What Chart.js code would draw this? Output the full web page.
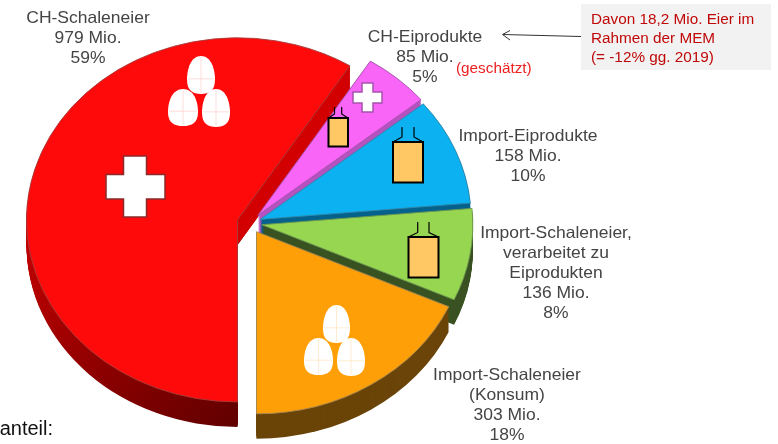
<!DOCTYPE html>
<html><head><meta charset="utf-8">
<style>html,body{margin:0;padding:0;background:#fff}canvas{display:block}</style>
<script src="https://cdn.jsdelivr.net/npm/chart.js@4"></script>
</head><body>
<canvas id="c" width="778" height="444"></canvas>
<script>
const categories = ["CH-Schaleneier","CH-Eiprodukte","Import-Eiprodukte","Import-Schaleneier, verarbeitet zu Eiprodukten","Import-Schaleneier (Konsum)"];
const valuesMio = [979,85,158,136,303];
const sharesPct = [59,5,10,8,18];
const topColors = ["#fe0a0a","#f965f7","#0bb1f1","#97d651","#fe9f08"];
const edgeColors = ["#a83a3a","#a452a8","#2f88a8","#6f9a50","#a88a50"];
const wallColors = ["#7a0000","#b552c0","#05628c","#3a5222","#6a4408"];
const labelLines = [
  ["CH-Schaleneier"],["CH-Eiprodukte"],["Import-Eiprodukte"],
  ["Import-Schaleneier,","verarbeitet zu","Eiprodukten"],["Import-Schaleneier","(Konsum)"]
];
const labelPos = [[88,18],[425,37],[528,136],[556,233],[507,375]];
const noteLines = ["Davon 18,2 Mio. Eier im","Rahmen der MEM","(= -12% gg. 2019)"];
const explode = [13,12,11,12,12];
const TILT = 0.863, DEPTH = 25, CY = 223;

const FONT = '"Liberation Sans", Arial, sans-serif';
function mapY(chart,y){const a=chart.chartArea;return CY+(y-(a.top+a.bottom)/2)*TILT;}

function egg(ctx,x0,y0,x1,y1,lineCol){
  const cx=(x0+x1)/2,w=(x1-x0)/2,h=y1-y0,wy=y0+h*0.62;
  ctx.beginPath();
  ctx.moveTo(cx,y0);
  ctx.bezierCurveTo(cx+w*0.72,y0,cx+w,y0+h*0.34,cx+w,wy);
  ctx.bezierCurveTo(cx+w,y1-h*0.09,cx+w*0.6,y1,cx,y1);
  ctx.bezierCurveTo(cx-w*0.6,y1,cx-w,y1-h*0.09,cx-w,wy);
  ctx.bezierCurveTo(cx-w,y0+h*0.34,cx-w*0.72,y0,cx,y0);
  ctx.closePath();ctx.fillStyle="#fff";ctx.fill();
  ctx.strokeStyle=lineCol;ctx.lineWidth=0.8;
  ctx.beginPath();ctx.moveTo(cx,y0+1);ctx.lineTo(cx,y1-1);
  ctx.moveTo(x0+1,y0+h*0.6);ctx.lineTo(x1-1,y0+h*0.6);ctx.stroke();
}
function cross(ctx,x0,y0,x1,y1,ax0,ax1,ay0,ay1,col,lw){
  ctx.beginPath();
  ctx.moveTo(ax0,y0);ctx.lineTo(ax1,y0);ctx.lineTo(ax1,ay0);ctx.lineTo(x1,ay0);
  ctx.lineTo(x1,ay1);ctx.lineTo(ax1,ay1);ctx.lineTo(ax1,y1);ctx.lineTo(ax0,y1);
  ctx.lineTo(ax0,ay1);ctx.lineTo(x0,ay1);ctx.lineTo(x0,ay0);ctx.lineTo(ax0,ay0);ctx.closePath();
  ctx.fillStyle="#fff";ctx.fill();ctx.strokeStyle=col;ctx.lineWidth=lw;ctx.stroke();
}
function bottle(ctx,x0,x1,yTop,yNeck,yBody,yBottom,n0,n1){
  ctx.fillStyle="#ffc864";ctx.fillRect(x0,yBody,x1-x0,yBottom-yBody);
  ctx.strokeStyle="#000";ctx.lineWidth=2;ctx.strokeRect(x0,yBody,x1-x0,yBottom-yBody);
  ctx.lineWidth=1.2;ctx.beginPath();
  ctx.moveTo(n0,yTop);ctx.lineTo(n0,yNeck);ctx.lineTo(x0,yBody);
  ctx.moveTo(n1,yTop);ctx.lineTo(n1,yNeck);ctx.lineTo(x1,yBody);ctx.stroke();
}
// the reference's text is slightly stretched sideways
function wideText(ctx,t,x,y,sx){
  ctx.save();ctx.translate(x,y);ctx.scale(sx,1);ctx.fillText(t,0,0);ctx.restore();
}

const pie3d = {
  id:"pie3d",
  afterDatasetsUpdate(chart){
    chart.getDatasetMeta(0).data.forEach((el,i)=>{
      const mid=(el.startAngle+el.endAngle)/2;
      el.x+=Math.cos(mid)*explode[i];
      el.y+=Math.sin(mid)*explode[i];
    });
  },
  beforeDatasetsDraw(chart){
    const ctx=chart.ctx,els=chart.getDatasetMeta(0).data;
    els.forEach((el,i)=>{
      const ex=el.x,ey=mapY(chart,el.y),rx=el.outerRadius,ry=rx*TILT;
      let fill=wallColors[i];
      if(i===0){const g=ctx.createLinearGradient(26,230,237,427);
        g.addColorStop(0,"#c40000");g.addColorStop(0.55,"#8a0000");g.addColorStop(1,"#600000");fill=g;}
      ctx.fillStyle=fill;
      for(let d=DEPTH;d>=1;d--){
        ctx.beginPath();ctx.moveTo(ex,ey+d);
        ctx.ellipse(ex,ey+d,rx,ry,0,el.startAngle,el.endAngle);
        ctx.closePath();ctx.fill();
      }
      if(i===0){
        const px=ex+Math.cos(el.endAngle)*rx,py=ey+Math.sin(el.endAngle)*ry;
        ctx.fillStyle="#d20000";ctx.beginPath();
        ctx.moveTo(ex,ey);ctx.lineTo(px,py);ctx.lineTo(px,py+DEPTH);ctx.lineTo(ex,ey+DEPTH);
        ctx.closePath();ctx.fill();
      }
    });
    ctx.save();
    const a=chart.chartArea;
    ctx.translate(0,CY);ctx.scale(1,TILT);ctx.translate(0,-(a.top+a.bottom)/2);
  },
  afterDatasetsDraw(chart){
    const ctx=chart.ctx;
    ctx.restore();
    // icons
    const p="#ffd4d4",o="#ffe6c4";
    egg(ctx,187,56,215,94,p);egg(ctx,168,89,198,126,p);egg(ctx,202,89,230,127,p);
    egg(ctx,323,305,350,343,o);egg(ctx,304,338,333,375,o);egg(ctx,337,338,365,376,o);
    cross(ctx,106,156,165,217,123.5,146.5,174.5,199,"#8c2a2a",1.5);
    cross(ctx,353,83,382,112,362,373,92,103,"#a552ad",1.5);
    bottle(ctx,328.5,348,107,114,118,146.5,334.5,341.7);
    bottle(ctx,393,423,127,137,142,182.5,402,414);
    bottle(ctx,408.5,438.5,222,232.5,237,277.5,417.7,429);
    // labels
    ctx.textAlign="center";ctx.textBaseline="middle";
    ctx.font="16.5px "+FONT;ctx.fillStyle="#444";
    labelLines.forEach((ls,i)=>{
      const lines=[...ls,valuesMio[i]+" Mio.",sharesPct[i]+"%"];
      lines.forEach((t,j)=>wideText(ctx,t,labelPos[i][0],labelPos[i][1]+j*20.2,1.06));
    });
    ctx.font="15.3px "+FONT;ctx.fillStyle="#ee2020";ctx.textAlign="left";
    ctx.fillText("(geschätzt)",456,69);
    // note box
    ctx.fillStyle="#f2f2f2";ctx.fillRect(581,4,190,66);
    ctx.fillStyle="#c00808";ctx.font="15.3px "+FONT;
    noteLines.forEach((t,j)=>ctx.fillText(t,591,20+j*19));
    // arrow
    ctx.strokeStyle="#333";ctx.lineWidth=1;ctx.beginPath();
    ctx.moveTo(581,36.5);ctx.lineTo(503,34.5);
    ctx.moveTo(510,30.5);ctx.lineTo(502.5,34.5);ctx.lineTo(510,40);ctx.stroke();
    // cut-off caption
    ctx.font="20px "+FONT;ctx.fillStyle="#111";ctx.textAlign="right";
    ctx.fillText("anteil:",53,429);
  }
};

new Chart(document.getElementById("c"),{
  type:"pie",
  data:{labels:categories,datasets:[{
    data:valuesMio,backgroundColor:topColors,borderColor:edgeColors,borderWidth:1,clip:false
  }]},
  options:{
    responsive:false,animation:false,rotation:180,radius:211,
    layout:{padding:{right:278}},
    plugins:{legend:{display:false},tooltip:{enabled:false}}
  },
  plugins:[pie3d]
});
</script>
</body></html>
